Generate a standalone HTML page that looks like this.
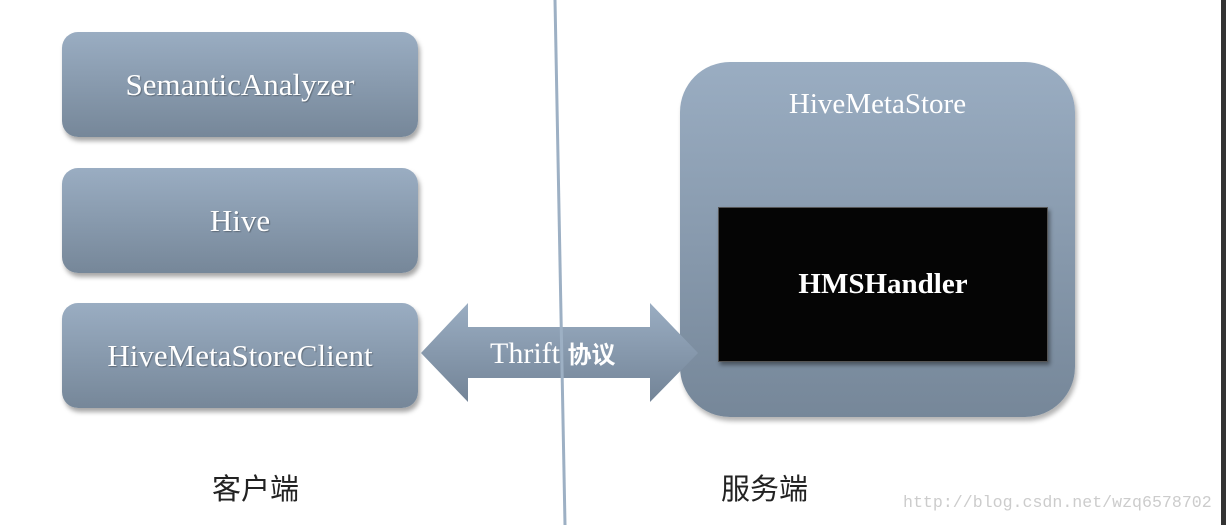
<!DOCTYPE html>
<html><head><meta charset="utf-8"><style>
body{margin:0;width:1226px;height:525px;background:#fff;position:relative;overflow:hidden;font-family:"Liberation Serif","Noto Serif CJK SC",serif}
.b{position:absolute;left:62px;width:356px;height:105px;border-radius:16px;background:linear-gradient(#9aadc2,#768799);box-shadow:2px 4px 5px rgba(0,0,0,.35);color:#fff;font-size:31px;display:flex;align-items:center;justify-content:center;text-shadow:1px 1px 1px rgba(0,0,0,.3)}
.t{position:absolute;font-size:29px;color:#222;font-family:"Liberation Sans","Noto Sans CJK SC",sans-serif}
</style></head><body>
<div class="b" style="top:32px">SemanticAnalyzer</div>
<div class="b" style="top:168px">Hive</div>
<div class="b" style="top:303px">HiveMetaStoreClient</div>
<div style="position:absolute;left:680px;top:62px;width:395px;height:355px;border-radius:50px;background:linear-gradient(#9aadc2,#768799);box-shadow:2px 4px 5px rgba(0,0,0,.3)"></div>
<div style="position:absolute;left:680px;top:88px;width:395px;text-align:center;color:#fff;font-size:29px">HiveMetaStore</div>
<div style="position:absolute;left:718px;top:207px;width:328px;height:153px;background:#050505;border:1px solid #555;box-shadow:2px 3px 4px rgba(0,0,0,.4);color:#fff;font-size:29px;font-weight:bold;display:flex;align-items:center;justify-content:center">HMSHandler</div>
<svg width="1226" height="525" style="position:absolute;left:0;top:0">
<defs><linearGradient id="g" x1="0" y1="0" x2="0" y2="1"><stop offset="0" stop-color="#9aadc2"/><stop offset="1" stop-color="#738497"/></linearGradient></defs>
<polygon points="421,353 468,303 468,327 650,327 650,303 698,353 650,402 650,378 468,378 468,402" fill="url(#g)"/>
<line x1="555" y1="0" x2="565" y2="525" stroke="#9db0c4" stroke-width="3"/>
<rect x="1221" y="0" width="5" height="525" fill="#333"/>
</svg>
<div style="position:absolute;left:490px;top:335px;color:#fff;font-size:30px;white-space:nowrap">Thrift <span style="font-family:'Noto Sans CJK SC',sans-serif;font-size:24px;font-weight:bold">协议</span></div>
<div class="t" style="left:212px;top:466px">客户端</div>
<div class="t" style="left:721px;top:466px">服务端</div>
<div style="position:absolute;left:903px;top:493px;color:#ccc;font-size:16.6px;font-family:'Liberation Mono',monospace">http://blog.csdn.net/wzq6578702</div>
</body></html>
